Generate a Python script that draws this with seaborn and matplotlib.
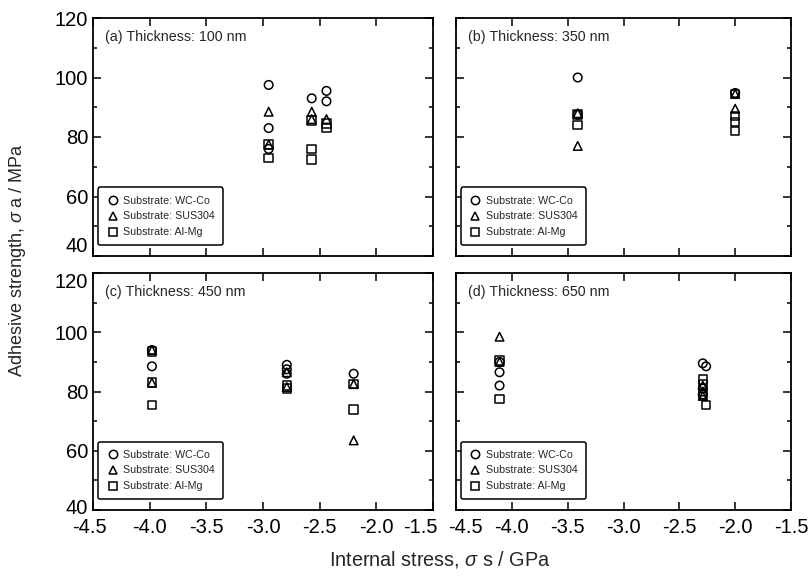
import pandas as pd
import seaborn as sns
import matplotlib.pyplot as plt
from matplotlib.lines import Line2D
from matplotlib.ticker import MultipleLocator
from matplotlib.transforms import ScaledTranslation

# values, one set per panel
panel_titles = ['(a) Thickness: 100 nm', '(b) Thickness: 350 nm',
                '(c) Thickness: 450 nm', '(d) Thickness: 650 nm']
substrates = ['WC-Co', 'SUS304', 'Al-Mg']

wc_x_a = [-2.95, -2.95, -2.95, -2.57, -2.44, -2.44]
wc_y_a = [97.5, 83.0, 76.0, 93.0, 95.5, 92.0]
sus_x_a = [-2.95, -2.95, -2.57, -2.57, -2.44]
sus_y_a = [88.5, 77.5, 88.5, 86.0, 86.0]
al_x_a = [-2.95, -2.95, -2.57, -2.57, -2.57, -2.44, -2.44]
al_y_a = [77.5, 73.0, 85.5, 76.0, 72.5, 84.5, 83.0]

wc_x_b = [-3.41, -3.41, -2.0]
wc_y_b = [100.0, 87.5, 94.8]
sus_x_b = [-3.41, -3.41, -2.0, -2.0]
sus_y_b = [88.0, 77.0, 89.5, 94.5]
al_x_b = [-3.41, -3.41, -2.0, -2.0, -2.0, -2.0]
al_y_b = [87.5, 84.0, 94.5, 87.0, 85.0, 82.0]

wc_x_c = [-3.98, -3.98, -2.79, -2.79, -2.79, -2.2]
wc_y_c = [94.0, 88.5, 89.0, 87.5, 86.0, 86.0]
sus_x_c = [-3.98, -3.98, -2.79, -2.79, -2.2, -2.2]
sus_y_c = [94.0, 83.0, 86.5, 81.5, 82.5, 63.5]
al_x_c = [-3.98, -3.98, -3.98, -2.79, -2.79, -2.2, -2.2]
al_y_c = [93.5, 83.0, 75.5, 82.0, 81.0, 82.5, 74.0]

wc_x_d = [-4.11, -4.11, -4.11, -2.29, -2.26, -2.29, -2.29]
wc_y_d = [90.0, 86.5, 82.0, 89.5, 88.5, 81.0, 79.0]
sus_x_d = [-4.11, -4.11, -2.29, -2.29, -2.29]
sus_y_d = [98.5, 90.0, 82.0, 80.0, 78.5]
al_x_d = [-4.11, -4.11, -2.29, -2.29, -2.29, -2.26]
al_y_d = [90.5, 77.5, 84.0, 82.5, 79.0, 75.5]

x_ticks = [-4.5, -4.0, -3.5, -3.0, -2.5, -2.0, -1.5]
y_ticks = [40, 60, 80, 100, 120]

panel_data = [
    [(wc_x_a, wc_y_a), (sus_x_a, sus_y_a), (al_x_a, al_y_a)],
    [(wc_x_b, wc_y_b), (sus_x_b, sus_y_b), (al_x_b, al_y_b)],
    [(wc_x_c, wc_y_c), (sus_x_c, sus_y_c), (al_x_c, al_y_c)],
    [(wc_x_d, wc_y_d), (sus_x_d, sus_y_d), (al_x_d, al_y_d)],
]

rows = []
for p, series in enumerate(panel_data):
    for sub, (xs, ys) in zip(substrates, series):
        for x, y in zip(xs, ys):
            rows.append({'panel': p, 'substrate': sub, 'stress': x, 'strength': y})
df = pd.DataFrame(rows)

sns.set_style('ticks')
plt.rcParams['font.family'] = ['Liberation Sans', 'DejaVu Sans']
plt.rcParams['mathtext.fontset'] = 'custom'
plt.rcParams['mathtext.it'] = 'Liberation Sans:italic'
plt.rcParams['mathtext.rm'] = 'Liberation Sans'

markers = {'WC-Co': 'o', 'SUS304': '^', 'Al-Mg': 's'}

fig = plt.figure(figsize=(8.09, 5.82), dpi=100)
W, H = 809, 582
# left / right / top / bottom of each panel in pixels
boxes = [(93, 433, 18, 256), (456, 791, 18, 256),
         (93, 433, 273, 510), (456, 791, 273, 510)]


def nudge(label, dx, dy):
    # shift a tick label by a few pixels
    label.set_transform(label.get_transform() +
                        ScaledTranslation(dx / 100, dy / 100, fig.dpi_scale_trans))


for i, (l, r, t, b) in enumerate(boxes):
    ax = fig.add_axes([l / W, 1 - b / H, (r - l) / W, (b - t) / H])
    sub_df = df[df['panel'] == i]
    sns.scatterplot(data=sub_df, x='stress', y='strength', style='substrate',
                    markers=markers, style_order=substrates, ax=ax, legend=False,
                    s=38, facecolor='none', edgecolor='black', linewidth=1.1)
    ax.set_xlim(-4.5, -1.5)
    ax.set_ylim(40, 120)
    ax.set_xticks(x_ticks)
    ax.yaxis.set_minor_locator(MultipleLocator(10))
    ax.tick_params(which='both', direction='in', top=True, right=True,
                   width=1.1, labelsize=14.5, colors='black')
    ax.tick_params(which='major', length=6)
    ax.tick_params(which='minor', length=3)
    ax.tick_params(axis='x', pad=6)
    ax.set_xlabel('')
    ax.set_ylabel('')
    for sp in ax.spines.values():
        sp.set_linewidth(1.3)
        sp.set_color('black')

    if i in (0, 1):
        ax.tick_params(labelbottom=False)
    else:
        ax.set_xticklabels([f'{v:.1f}' for v in x_ticks])
        xl = ax.get_xticklabels()
        # keep the end labels apart where the two panels meet
        if i == 2:
            nudge(xl[0], -4, 0)
            nudge(xl[-1], -13, 0)
        else:
            nudge(xl[0], 9, 0)
    if i in (1, 3):
        ax.tick_params(labelleft=False)
    else:
        ax.set_yticks(y_ticks)
        ax.set_yticklabels([str(v) for v in y_ticks])
        labels = ax.get_yticklabels()
        if i == 0:
            labels[0].set_va('bottom')
        else:
            labels[-1].set_va('top')
            nudge(labels[0], 0, 3)

    ax.text(0.035, 0.95, panel_titles[i], transform=ax.transAxes,
            ha='left', va='top', fontsize=10.3)

    handles = [Line2D([], [], linestyle='none', marker=markers[s], markersize=6,
                      markerfacecolor='none', markeredgecolor='black',
                      markeredgewidth=1.1, label='Substrate: ' + s)
               for s in substrates]
    leg = ax.legend(handles=handles, loc='lower left', bbox_to_anchor=(0.015, 0.045),
                    borderaxespad=0, fontsize=7.7, frameon=True, fancybox=True,
                    handletextpad=0.4, handlelength=1.2, labelspacing=0.55,
                    borderpad=0.75)
    leg.get_frame().set_edgecolor('black')
    leg.get_frame().set_linewidth(1.1)
    leg.get_frame().set_alpha(1)

fig.text(18 / W, 1 - 260 / H, r'Adhesive strength, $\mathit{\sigma}$ a / MPa',
         rotation=90, ha='center', va='center', fontsize=13)
fig.text(440 / W, 1 - 560 / H, r'Internal stress, $\mathit{\sigma}$ s / GPa',
         ha='center', va='center', fontsize=14.3)

plt.savefig('out.png', dpi=100)
plt.close()
